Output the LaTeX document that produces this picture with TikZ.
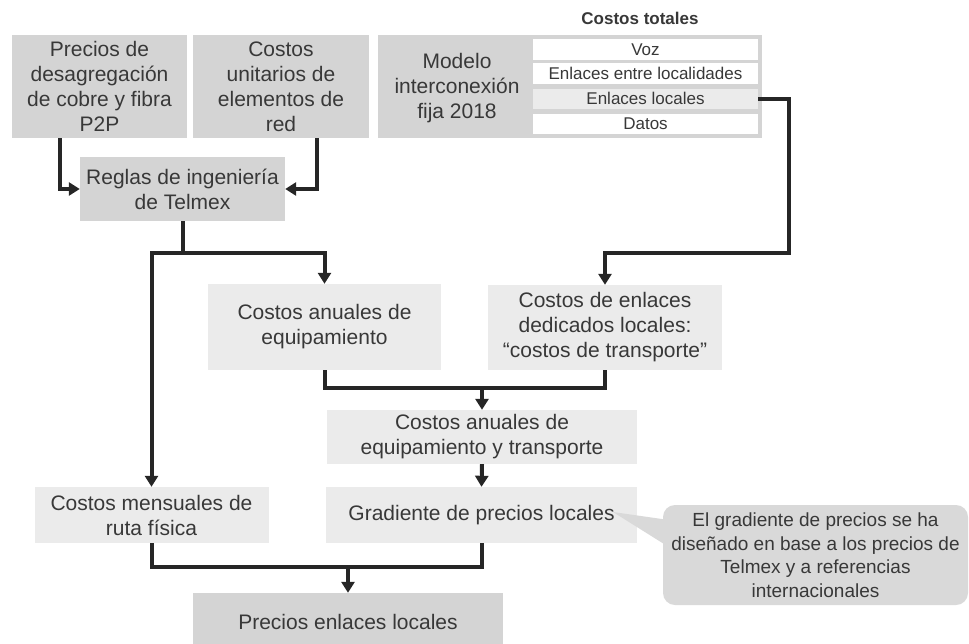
\documentclass[tikz,border=0pt]{standalone}
\usepackage{fontspec}
\setmainfont{Liberation Sans}
\usetikzlibrary{calc, positioning}
\usetikzlibrary{arrows.meta}
\definecolor{boxdark}{HTML}{D4D4D4}
\definecolor{boxlight}{HTML}{EBEBEB}
\definecolor{notegray}{HTML}{D9D9D9}
\definecolor{textgray}{HTML}{383838}
\definecolor{linegray}{HTML}{262626}
\tikzset{
    block/.style = {
        rectangle, align=center, inner sep=0pt, text=textgray,
        font=\fontsize{21}{25}\selectfont
    },
    darkblock/.style = {block, fill=boxdark},
    lightblock/.style = {block, fill=boxlight},
    cell/.style = {
        block, fill=white, minimum width=225pt, minimum height=20.5pt,
        font=\fontsize{17}{20}\selectfont
    },
    note/.style = {
        block, fill=notegray, rounded corners=12pt,
        font=\fontsize{19}{23.5}\selectfont
    },
    wire/.style = {line width=4pt, draw=linegray},
    flow/.style = {wire, -{Triangle[width=13pt,length=11pt]}},
}

\begin{document}
\begin{tikzpicture}[x=1pt, y=-1pt]
        \useasboundingbox (0, 0) rectangle (969, 643);
        % Place the blocks
        \node[darkblock, minimum width=175pt, minimum height=103pt] (prec) at (99.5, 86.5)
            {Precios de\\desagregación\\de cobre y fibra\\P2P};
        \node[darkblock, minimum width=176pt, minimum height=103pt] (unit) at (281, 86.5)
            {Costos\\unitarios de\\elementos de\\red};
        \node[darkblock, minimum width=384pt, minimum height=103pt] (modelo) at (570, 86.5) {};
        \node[block] (modlabel) at (457, 88) {Modelo\\interconexión\\fija 2018};
        \node[block, font=\bfseries\fontsize{17}{20}\selectfont] (totales) at (640, 18) {Costos totales};
        \node[cell] (voz) at (645.5, 49.3) {Voz};
        \node[cell] (entre) at (645.5, 73.3) {Enlaces entre localidades};
        \node[cell, fill=boxlight] (loc) at (645.5, 98.8) {Enlaces locales};
        \node[cell] (datos) at (645.5, 124.2) {Datos};

        \node[darkblock, minimum width=205pt, minimum height=64pt] (reglas) at (182.5, 189)
            {Reglas de ingeniería\\de Telmex};
        \node[lightblock, minimum width=233pt, minimum height=86pt] (anual) at (324.5, 327)
            {Costos anuales de\\equipamiento};
        \node[lightblock, minimum width=234pt, minimum height=85pt] (dedic) at (605, 327.5)
            {Costos de enlaces\\dedicados locales:\\“costos de transporte”};
        \node[lightblock, minimum width=310pt, minimum height=54pt] (antr) at (482, 437)
            {Costos anuales de\\equipamiento y transporte};
        \node[lightblock, minimum width=234pt, minimum height=56pt] (mens) at (151.5, 515)
            {Costos mensuales de\\ruta física};
        \node[lightblock, minimum width=311pt, minimum height=56pt] (grad) at (481.5, 515)
            {Gradiente de precios locales};
        \node[darkblock, minimum width=310pt, minimum height=58pt] (final) at (348, 622)
            {Precios enlaces locales};

        % Callout
        \node[note, minimum width=305pt, minimum height=100pt] (nota) at (815.5, 555)
            {El gradiente de precios se ha\\diseñado en base a los precios de\\Telmex y a referencias\\internacionales};
        \coordinate (tip) at (613, 512);
        \fill[notegray] (tip) -- ([xshift=6pt, yshift=35pt] nota.west) -- ([xshift=6pt, yshift=8pt] nota.west) -- cycle;

        % Connectors
        \coordinate (rsplit) at (182.5, 253);
        \coordinate (rturn) at (789, 253);
        \coordinate (mjoin) at (482, 388);
        \coordinate (bjoin) at (348, 567);
        \draw[flow] ([xshift=-39.5pt] prec.south) |- (reglas.west);
        \draw[flow] ([xshift=36pt] unit.south) |- (reglas.east);
        \draw[wire] (reglas.south) -- (rsplit);
        \draw[flow] (rsplit) -| (anual.north);
        \draw[flow] (rsplit) -| (mens.north);
        \draw[flow] (loc.east) -| (rturn) -| (dedic.north);
        \draw[wire] (anual.south) |- (mjoin) -| (dedic.south);
        \draw[flow] (mjoin) -- (antr.north);
        \draw[flow] (antr.south) -- (grad.north);
        \draw[wire] (mens.south) |- (bjoin) -| (grad.south);
        \draw[flow] (bjoin) -- (final.north);
\end{tikzpicture}
\end{document}
